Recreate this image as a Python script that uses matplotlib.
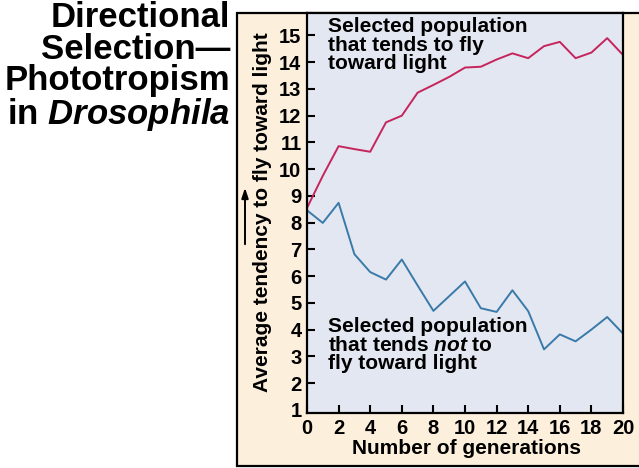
import matplotlib
matplotlib.use("Agg")
import matplotlib.pyplot as plt
from matplotlib.patches import Rectangle

plt.rcParams['font.family'] = ['Liberation Sans', 'DejaVu Sans']
plt.rcParams['font.weight'] = 'bold'
plt.rcParams['mathtext.fontset'] = 'custom'
plt.rcParams['mathtext.it'] = 'Liberation Sans:italic:bold'
plt.rcParams['mathtext.rm'] = 'Liberation Sans:bold'

# dane
pokolenia = list(range(21))
do_swiatla = [8.55, 9.75, 10.86, 10.75, 10.65, 11.75, 12.0, 12.86, 13.15, 13.45, 13.8,
              13.83, 14.1, 14.33, 14.15, 14.6, 14.76, 14.15, 14.36, 14.9, 14.27]
od_swiatla = [8.46, 7.99, 8.74, 6.82, 6.15, 5.87, 6.62, 5.65, 4.7, 5.25, 5.8,
              4.8, 4.66, 5.47, 4.69, 3.26, 3.82, 3.56, 4.0, 4.47, 3.85]

czerwony = '#c6245c'
niebieski = '#3a7aa9'
bez = '#fcefdc'
tlo = '#e2e7f1'

W, H = 639, 468
fig = plt.figure(figsize=(W / 100, H / 100), dpi=100)
fig.patch.set_facecolor('white')

# bezowa ramka
fig.patches.append(Rectangle((237 / W, 2 / H), 1.0, (466 - 13) / H, transform=fig.transFigure,
                             facecolor=bez, edgecolor='black', linewidth=1.6, zorder=-5))

ax = fig.add_axes([307 / W, (H - 413) / H, 316 / W, 400 / H])
ax.set_facecolor(tlo)
ax.plot(pokolenia, do_swiatla, color=czerwony, lw=1.4)
ax.plot(pokolenia, od_swiatla, color=niebieski, lw=1.4)
ax.set_xlim(0, 20)
ax.set_ylim(0.88, 15.84)
ax.set_xticks(range(0, 21, 2))
ax.set_yticks(range(1, 16))
for s in ax.spines.values():
    s.set_linewidth(1.6)
ax.tick_params(direction='in', length=6, width=1.5, labelsize=14.5, pad=4)
for t in ax.get_xticklabels() + ax.get_yticklabels():
    t.set_fontweight('bold')
ax.yaxis.get_major_ticks()[0].tick1line.set_visible(False)

ax.text(0.065, 0.99, "Selected population\nthat tends to fly\ntoward light",
        transform=ax.transAxes, fontsize=15, va='top', ha='left', linespacing=0.97)
ax.text(0.065, 0.24, "Selected population\nthat tends $\\mathit{not}$ to\nfly toward light",
        transform=ax.transAxes, fontsize=15, va='top', ha='left', linespacing=0.97)

fig.text(263 / W, (H - 212) / H, "Average tendency to fly toward light", rotation=90,
         ha='center', va='center', fontsize=15)
fig.text(466 / W, (H - 449) / H, "Number of generations", ha='center', va='center',
         fontsize=15)
ax.annotate('', xy=(245 / W, (H - 185) / H), xytext=(245 / W, (H - 247) / H),
            xycoords='figure fraction', textcoords='figure fraction', annotation_clip=False,
            arrowprops=dict(arrowstyle='-|>,head_length=0.6,head_width=0.2', color='black', lw=1.4))

fig.text(230 / W, (H - 1) / H, "Directional\nSelection\u2014\nPhototropism\nin $\\mathit{Drosophila}$",
         ha='right', va='top', fontsize=25, linespacing=0.95, multialignment='right')

fig.savefig("out.png", dpi=100)
